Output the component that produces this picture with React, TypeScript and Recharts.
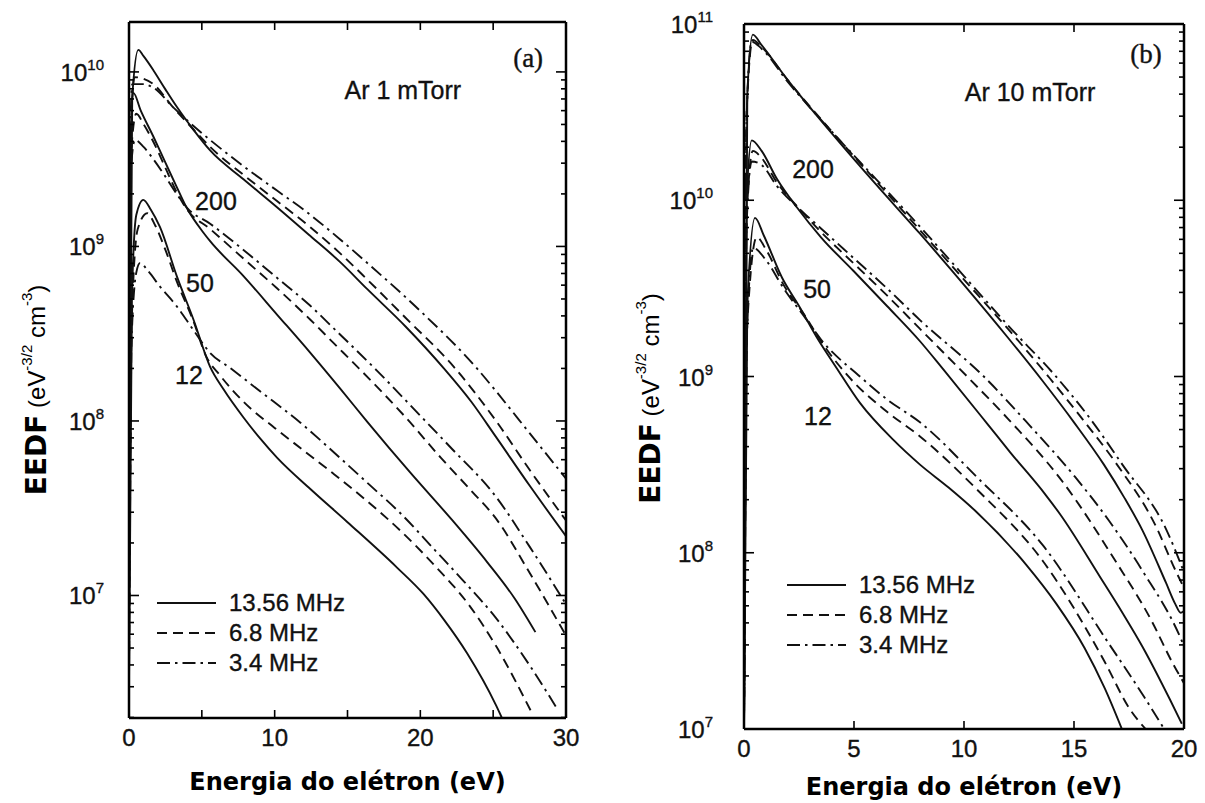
import React from 'react';
import { LineChart, Line, XAxis, YAxis, Legend, ReferenceDot } from 'recharts';

// Each curve: [electron energy (eV), log10 EEDF (eV^-3/2 cm^-3)]
type Pt = [number, number];

// ---------- (a) Ar 1 mTorr ----------
const ar1_200_f1356: Pt[] = [[0, 7.0], [0.22, 9.85], [0.64, 10.126], [1.0, 10.09], [1.67, 10.01], [2.5, 9.9], [3.28, 9.8], [4.43, 9.668], [5.57, 9.55], [7.86, 9.385], [10.16, 9.225], [12.45, 9.06], [14.5, 8.91], [16.36, 8.755], [19.0, 8.54], [21.63, 8.3], [23.5, 8.11], [25.18, 7.91], [27.5, 7.63], [30, 7.34]];
const ar1_200_f68: Pt[] = [[0, 7.0], [0.15, 9.7], [0.38, 9.97], [1.0, 9.96], [1.67, 9.93], [3.0, 9.8], [4.43, 9.67], [5.57, 9.57], [7.86, 9.41], [10.16, 9.26], [12.45, 9.11], [14.5, 8.96], [16.36, 8.81], [19.0, 8.59], [22.3, 8.31], [25.2, 8.0], [27.5, 7.72], [30, 7.43]];
const ar1_200_f34: Pt[] = [[0, 7.0], [0.08, 9.6], [0.22, 9.93], [1.0, 9.93], [1.67, 9.91], [3.0, 9.8], [4.43, 9.69], [5.57, 9.61], [7.86, 9.46], [10.16, 9.32], [12.0, 9.21], [14.5, 9.04], [16.36, 8.905], [20.0, 8.63], [23.9, 8.3], [25.2, 8.17], [27.5, 7.93], [30, 7.67]];

const ar1_50_f1356: Pt[] = [[0, 7.0], [0.1, 9.6], [0.3, 9.88], [0.8, 9.78], [1.67, 9.63], [2.5, 9.48], [3.28, 9.34], [3.97, 9.22], [5.1, 9.08], [5.57, 9.03], [7.86, 8.83], [10.16, 8.61], [12.45, 8.39], [14.5, 8.185], [16.36, 7.995], [19.3, 7.705], [22.1, 7.44], [24.6, 7.19], [26.5, 6.98], [27.9, 6.79]];
const ar1_50_f68: Pt[] = [[0, 7.0], [0.12, 9.5], [0.5, 9.76], [1.0, 9.7], [1.67, 9.6], [2.5, 9.45], [3.28, 9.31], [4.0, 9.21], [5.57, 9.1], [7.86, 8.93], [10.16, 8.76], [12.45, 8.58], [14.0, 8.45], [15.8, 8.3], [19.0, 8.02], [21.4, 7.79], [23.5, 7.6], [25.2, 7.44], [27.5, 7.13], [30, 6.77]];
const ar1_50_f34: Pt[] = [[0, 7.0], [0.1, 9.4], [0.41, 9.61], [1.0, 9.57], [1.67, 9.5], [2.5, 9.4], [3.28, 9.3], [4.0, 9.22], [5.57, 9.13], [7.86, 8.98], [10.16, 8.82], [12.45, 8.66], [14.0, 8.535], [17.0, 8.29], [20.0, 8.03], [22.0, 7.855], [25.2, 7.565], [27.5, 7.28], [30, 6.95]];

const ar1_12_f1356: Pt[] = [[0, 6.5], [0.2, 8.7], [0.5, 9.18], [0.98, 9.267], [1.5, 9.21], [2.13, 9.11], [3.28, 8.83], [4.43, 8.58], [5.57, 8.31], [6.5, 8.18], [7.86, 8.02], [9.0, 7.9], [10.16, 7.79], [12.45, 7.61], [15.0, 7.42], [18.4, 7.16], [20.2, 7.01], [21.63, 6.86], [23.2, 6.67], [25.2, 6.37], [25.7, 6.28]];
const ar1_12_f68: Pt[] = [[0, 6.5], [0.2, 8.6], [0.6, 9.1], [1.25, 9.19], [1.8, 9.12], [2.5, 8.98], [3.28, 8.8], [4.43, 8.57], [5.3, 8.37], [6.26, 8.26], [7.86, 8.11], [10.0, 7.96], [12.0, 7.83], [14.0, 7.7], [16.5, 7.53], [18.65, 7.37], [21.0, 7.17], [23.3, 6.95], [25.2, 6.71], [27.7, 6.32]];
const ar1_12_f34: Pt[] = [[0, 6.5], [0.15, 8.4], [0.5, 8.85], [0.76, 8.905], [1.3, 8.86], [2.13, 8.77], [3.28, 8.657], [4.43, 8.52], [5.57, 8.39], [7.0, 8.3], [9.0, 8.17], [11.77, 7.99], [14.0, 7.825], [16.5, 7.635], [18.65, 7.47], [21.0, 7.26], [23.0, 7.08], [25.2, 6.87], [27.5, 6.6], [29.4, 6.35]];

// ---------- (b) Ar 10 mTorr ----------
const ar10_200_f1356: Pt[] = [[0, 7.0], [0.15, 10.6], [0.4, 10.94], [0.8, 10.88], [2.0, 10.68], [4.06, 10.37], [6.0, 10.09], [8.0, 9.81], [10.0, 9.52], [12.0, 9.22], [13.54, 8.98], [15.0, 8.74], [16.36, 8.5], [17.3, 8.31], [18.1, 8.13], [19.18, 7.83], [19.6, 7.71], [19.85, 7.66], [20, 7.67]];
const ar10_200_f68: Pt[] = [[0, 7.0], [0.12, 10.5], [0.4, 10.91], [0.8, 10.87], [2.0, 10.68], [4.06, 10.38], [6.0, 10.11], [8.0, 9.83], [10.0, 9.55], [12.0, 9.27], [13.9, 8.99], [15.5, 8.74], [16.9, 8.51], [18.8, 8.13], [19.5, 7.93], [20, 7.8]];
const ar10_200_f34: Pt[] = [[0, 7.0], [0.1, 10.4], [0.35, 10.9], [0.8, 10.86], [2.0, 10.67], [4.06, 10.38], [6.0, 10.12], [8.0, 9.85], [10.0, 9.57], [12.0, 9.29], [14.25, 8.99], [15.8, 8.75], [17.2, 8.5], [19.2, 8.13], [20, 7.89]];

const ar10_50_f1356: Pt[] = [[0, 7.0], [0.12, 10.0], [0.35, 10.34], [0.8, 10.28], [1.5, 10.12], [2.4, 9.96], [3.5, 9.79], [4.97, 9.6], [6.5, 9.4], [8.0, 9.2], [9.06, 9.04], [11.07, 8.73], [12.1, 8.57], [13.7, 8.33], [14.36, 8.22], [16.2, 7.86], [17.2, 7.66], [18.1, 7.47], [19.35, 7.17], [19.9, 7.03]];
const ar10_50_f68: Pt[] = [[0, 7.0], [0.12, 9.9], [0.4, 10.28], [0.8, 10.24], [1.5, 10.1], [2.6, 9.94], [3.5, 9.82], [5.0, 9.64], [6.5, 9.46], [8.0, 9.27], [10.3, 8.98], [12.0, 8.76], [14.5, 8.4], [16.9, 7.95], [18.5, 7.62], [19.5, 7.37], [20, 7.26]];
const ar10_50_f34: Pt[] = [[0, 7.0], [0.1, 9.8], [0.35, 10.22], [0.8, 10.2], [1.5, 10.08], [2.7, 9.93], [3.5, 9.84], [5.0, 9.67], [6.5, 9.5], [8.0, 9.32], [10.9, 9.0], [13.0, 8.72], [15.05, 8.43], [16.6, 8.18], [18.1, 7.9], [19.9, 7.5], [20, 7.47]];

const ar10_12_f1356: Pt[] = [[0, 7.0], [0.15, 9.4], [0.5, 9.9], [0.9, 9.8], [1.73, 9.56], [2.5, 9.4], [3.32, 9.22], [4.2, 9.05], [5.27, 8.85], [6.79, 8.64], [8.0, 8.5], [9.3, 8.37], [10.58, 8.23], [12.84, 7.93], [14.2, 7.71], [15.48, 7.46], [16.4, 7.23], [17.24, 6.98]];
const ar10_12_f68: Pt[] = [[0, 7.0], [0.15, 9.3], [0.58, 9.79], [1.0, 9.72], [1.8, 9.52], [2.8, 9.34], [3.5, 9.2], [4.97, 8.97], [6.5, 8.8], [8.0, 8.66], [10.58, 8.36], [13.6, 7.95], [16.4, 7.38], [17.5, 7.12], [18.4, 6.98]];
const ar10_12_f34: Pt[] = [[0, 7.0], [0.12, 9.2], [0.42, 9.73], [1.0, 9.66], [1.8, 9.5], [2.8, 9.33], [3.5, 9.21], [5.27, 9.0], [6.5, 8.87], [8.0, 8.74], [10.58, 8.43], [13.6, 8.04], [16.5, 7.5], [18.2, 7.18], [19.2, 6.98]];

// ---------- labels ----------
const FREQUENCIES = ['13.56 MHz', '6.8 MHz', '3.4 MHz'];
const POWER_LABELS = ['200', '50', '12'];
const AR1_X_TICKS = [0, 5, 10, 15, 20, 25, 30];
const AR1_X_LABELS = [0, 10, 20, 30];
const AR10_X_TICKS = [0, 5, 10, 15, 20];
const AR10_X_LABELS = [0, 5, 10, 15, 20];

// line pattern per frequency: solid, dashed, dash-dot
const DASHES: (string | undefined)[] = [undefined, '10 6', '13 5 2.5 5'];

const SANS = '"Liberation Sans", Arial, Helvetica, sans-serif';
const BOLD_SANS = '"DejaVu Sans", Verdana, sans-serif';
const SERIF = '"Liberation Serif", "Times New Roman", serif';
const INK = '#111';

const toRows = (pts: Pt[]) => pts.map(([e, l]) => ({ e, v: Math.pow(10, l) }));

function logTicks(lo: number, hi: number): number[] {
  const out: number[] = [];
  for (let d = Math.floor(lo); d <= Math.ceil(hi); d++) {
    for (let m = 1; m <= 9; m++) {
      const lv = d + Math.log10(m);
      if (lv >= lo - 1e-9 && lv <= hi + 1e-9) out.push(m * Math.pow(10, d));
    }
  }
  return out;
}

const makeYTick = (side: 'left' | 'right', gap: number) => (p: any) => {
  const v = p.payload.value as number;
  const lg = Math.log10(v);
  const exp = Math.round(lg);
  const major = Math.abs(lg - exp) < 1e-6;
  const len = major ? 10 : 5;
  const dir = side === 'left' ? 1 : -1;
  return (
    <g>
      <line x1={p.x} x2={p.x + dir * len} y1={p.y} y2={p.y} stroke="#000" strokeWidth={1.6} />
      {side === 'left' && major ? (
        <text x={p.x - gap} y={p.y + 9} textAnchor="end" fontFamily={SANS} fontSize={24} fill={INK} stroke={INK} strokeWidth={0.35}>
          <tspan>10</tspan>
          <tspan dy={-11} fontSize={15}>{exp}</tspan>
        </text>
      ) : null}
    </g>
  );
};

const makeXTick = (side: 'top' | 'bottom', labels: number[]) => (p: any) => {
  const v = p.payload.value as number;
  const dir = side === 'bottom' ? -1 : 1;
  return (
    <g>
      <line x1={p.x} x2={p.x} y1={p.y} y2={p.y + dir * 8} stroke="#000" strokeWidth={1.6} />
      {side === 'bottom' && labels.includes(v) ? (
        <text x={p.x} y={p.y + 28} textAnchor="middle" fontFamily={SANS} fontSize={24} fill={INK} stroke={INK} strokeWidth={0.35}>{v}</text>
      ) : null}
    </g>
  );
};

const YTitle = (props: any) => {
  const vb = props.viewBox || { x: 0, y: 0, width: 0, height: 0 };
  const cx = vb.x + vb.width - props.dx;
  const cy = vb.y + vb.height / 2 + props.dy;
  return (
    <text transform={`translate(${cx},${cy}) rotate(-90)`} textAnchor="middle" dominantBaseline="central" fill="#000" fontFamily={SANS}>
      <tspan fontFamily={BOLD_SANS} fontWeight="bold" fontSize={28}>EEDF</tspan>
      <tspan fontSize={24}> (eV</tspan>
      <tspan fontSize={15} dy={-10}>-3/2</tspan>
      <tspan fontSize={24} dy={10}> cm</tspan>
      <tspan fontSize={15} dy={-10}>-3</tspan>
      <tspan fontSize={24} dy={10}>)</tspan>
    </text>
  );
};

const XTitle = (props: any) => {
  const vb = props.viewBox || { x: 0, y: 0, width: 0, height: 0 };
  return (
    <text x={vb.x + vb.width / 2} y={vb.y + props.dy} textAnchor="middle" fontFamily={BOLD_SANS} fontWeight="bold" fontSize={24} fill="#000">
      Energia do elétron (eV)
    </text>
  );
};

const FreqLegend = () => (
  <svg width={240} height={90} style={{ overflow: 'visible', display: 'block' }}>
    {FREQUENCIES.map((f, i) => (
      <g key={f}>
        <line x1={7} x2={66} y1={15 + i * 30} y2={15 + i * 30} stroke={INK} strokeWidth={2} strokeDasharray={DASHES[i]} />
        <text x={79} y={15 + i * 30 + 8} fontFamily={SANS} fontSize={24} fill={INK} stroke={INK} strokeWidth={0.35}>{f}</text>
      </g>
    ))}
  </svg>
);

interface Note { e: number; l: number; text: string; font?: string; size?: number }

interface PanelCfg {
  left: number;
  width: number;
  margin: { top: number; right: number; bottom: number; left: number };
  xDomain: [number, number];
  xTicks: number[];
  xLabels: number[];
  yLog: [number, number];
  yGap: number;
  titleDx: number;
  titleDy: number;
  xTitleDy: number;
  curves: Pt[][][]; // [power][frequency]
  notes: Note[];
  legendPos: { left: number; top: number };
}

const HEIGHT = 803;

const panels: PanelCfg[] = [
  {
    left: 0,
    width: 600,
    margin: { top: 12, right: 24, bottom: 45, left: 69 },
    xDomain: [0, 30],
    xTicks: AR1_X_TICKS,
    xLabels: AR1_X_LABELS,
    yLog: [6.298, 10.286],
    yGap: 25,
    titleDx: 93,
    titleDy: 20,
    xTitleDy: 72,
    curves: [
      [ar1_200_f1356, ar1_200_f68, ar1_200_f34],
      [ar1_50_f1356, ar1_50_f68, ar1_50_f34],
      [ar1_12_f1356, ar1_12_f68, ar1_12_f34],
    ],
    notes: [
      { e: 27.4, l: 10.08, text: '(a)', font: SERIF, size: 27 },
      { e: 18.8, l: 9.897, text: 'Ar 1 mTorr', size: 25 },
      { e: 5.97, l: 9.262, text: POWER_LABELS[0], size: 25 },
      { e: 4.87, l: 8.79, text: POWER_LABELS[1], size: 25 },
      { e: 4.12, l: 8.266, text: POWER_LABELS[2], size: 25 },
    ],
    legendPos: { left: 150, top: 588 },
  },
  {
    left: 600,
    width: 605,
    margin: { top: 14, right: 11, bottom: 34, left: 84 },
    xDomain: [0, 20],
    xTicks: AR10_X_TICKS,
    xLabels: AR10_X_LABELS,
    yLog: [7, 11],
    yGap: 31,
    titleDx: 94,
    titleDy: 22,
    xTitleDy: 66,
    curves: [
      [ar10_200_f1356, ar10_200_f68, ar10_200_f34],
      [ar10_50_f1356, ar10_50_f68, ar10_50_f34],
      [ar10_12_f1356, ar10_12_f68, ar10_12_f34],
    ],
    notes: [
      { e: 18.27, l: 10.83, text: '(b)', font: SERIF, size: 27 },
      { e: 13.0, l: 10.614, text: 'Ar 10 mTorr', size: 25 },
      { e: 3.14, l: 10.177, text: POWER_LABELS[0], size: 25 },
      { e: 3.32, l: 9.496, text: POWER_LABELS[1], size: 25 },
      { e: 3.36, l: 8.776, text: POWER_LABELS[2], size: 25 },
    ],
    legendPos: { left: 180, top: 570 },
  },
];

const frame = { stroke: '#000', strokeWidth: 2.5 };

function Panel({ cfg }: { cfg: PanelCfg }) {
  const yDomain: [number, number] = [Math.pow(10, cfg.yLog[0]), Math.pow(10, cfg.yLog[1])];
  const yTicks = logTicks(cfg.yLog[0], cfg.yLog[1]);
  return (
    <div style={{ position: 'absolute', left: cfg.left, top: 0 }}>
      <LineChart width={cfg.width} height={HEIGHT} margin={cfg.margin}>
        <XAxis
          xAxisId="bottom"
          dataKey="e"
          type="number"
          domain={cfg.xDomain}
          allowDataOverflow
          ticks={cfg.xTicks}
          interval={0}
          height={40}
          tickSize={0}
          tickMargin={0}
          axisLine={frame}
          tick={makeXTick('bottom', cfg.xLabels)}
          label={<XTitle dy={cfg.xTitleDy} />}
        />
        <XAxis
          xAxisId="top"
          orientation="top"
          dataKey="e"
          type="number"
          domain={cfg.xDomain}
          allowDataOverflow
          ticks={cfg.xTicks}
          interval={0}
          height={10}
          tickSize={0}
          tickMargin={0}
          axisLine={frame}
          tick={makeXTick('top', cfg.xLabels)}
        />
        <YAxis
          yAxisId="left"
          scale="log"
          type="number"
          domain={yDomain}
          allowDataOverflow
          ticks={yTicks}
          interval={0}
          width={60}
          tickSize={0}
          tickMargin={0}
          axisLine={frame}
          tick={makeYTick('left', cfg.yGap)}
          label={<YTitle dx={cfg.titleDx} dy={cfg.titleDy} />}
        />
        <YAxis
          yAxisId="right"
          orientation="right"
          scale="log"
          type="number"
          domain={yDomain}
          allowDataOverflow
          ticks={yTicks}
          interval={0}
          width={10}
          tickSize={0}
          tickMargin={0}
          axisLine={frame}
          tick={makeYTick('right', 0)}
        />
        {cfg.curves.map((group, gi) =>
          group.map((pts, fi) => (
            <Line
              key={`${gi}-${fi}`}
              data={toRows(pts)}
              dataKey="v"
              xAxisId="bottom"
              yAxisId="left"
              type="monotone"
              stroke={INK}
              strokeWidth={1.9}
              strokeDasharray={DASHES[fi]}
              dot={false}
              activeDot={false}
              isAnimationActive={false}
            />
          ))
        )}
        {cfg.notes.map((n) => (
          <ReferenceDot
            key={n.text}
            x={n.e}
            y={Math.pow(10, n.l)}
            xAxisId="bottom"
            yAxisId="left"
            r={0}
            ifOverflow="visible"
            shape={(p: any) => (
              <text
                x={p.cx}
                y={p.cy}
                textAnchor="middle"
                dominantBaseline="central"
                fontFamily={n.font || SANS}
                fontSize={n.size || 24}
                fill={INK}
                stroke={INK}
                strokeWidth={0.35}
              >
                {n.text}
              </text>
            )}
          />
        ))}
        <Legend
          layout="horizontal"
          verticalAlign="middle"
          align="center"
          content={() => <FreqLegend />}
          wrapperStyle={{ left: cfg.legendPos.left, top: cfg.legendPos.top, width: 240, height: 90 }}
        />
      </LineChart>
    </div>
  );
}

export default function App() {
  return (
    <div style={{ position: 'absolute', left: 0, top: 0, width: 1205, height: HEIGHT, background: '#fff' }}>
      {panels.map((cfg, i) => (
        <Panel key={i} cfg={cfg} />
      ))}
    </div>
  );
}
